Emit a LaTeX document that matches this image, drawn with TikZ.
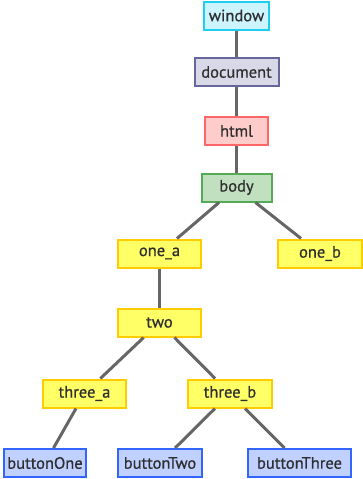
\documentclass[tikz,border=0pt]{standalone}
\usepackage{fontspec}
\setmainfont{PT Sans}
\newfontfamily\labelfont{PT Sans}[FakeBold=0.7]
\begin{document}
\begin{tikzpicture}[x=1pt,y=-1pt,
  box/.style={draw, line width=2pt, rectangle, inner sep=0pt,
    minimum height=28pt, font=\labelfont\fontsize{16.5}{18}\selectfont, text=black!82},
  winbox/.style={box, draw={rgb,255:red,34;green,204;blue,238}, fill={rgb,255:red,204;green,245;blue,255}},
  docbox/.style={box, draw={rgb,255:red,102;green,102;blue,153}, fill={rgb,255:red,216;green,216;blue,232}},
  htmlbox/.style={box, draw={rgb,255:red,255;green,102;blue,102}, fill={rgb,255:red,255;green,204;blue,204}},
  bodybox/.style={box, draw={rgb,255:red,85;green,170;blue,85}, fill={rgb,255:red,192;green,224;blue,192}},
  elbox/.style={box, draw={rgb,255:red,255;green,204;blue,0}, fill={rgb,255:red,255;green,255;blue,102}},
  btnbox/.style={box, draw={rgb,255:red,51;green,102;blue,255}, fill={rgb,255:red,192;green,208;blue,255}},
  link/.style={draw={rgb,255:red,102;green,102;blue,102}, line width=3pt}]
\useasboundingbox (0,0) rectangle (363,479);

% DOM tree nodes
\node[winbox,  minimum width=65pt] (window)   at (236.5,15.5) {window};
\node[docbox,  minimum width=84pt] (document) at (236.5,72)   {document};
\node[htmlbox, minimum width=63pt] (html)     at (236.5,131)  {html};
\node[bodybox, minimum width=70pt] (body)     at (236.5,187.5){body};
\node[elbox,   minimum width=83pt] (onea)     at (159.5,253.5){one\_a};
\node[elbox,   minimum width=84pt] (oneb)     at (320,253.5)  {one\_b};
\node[elbox,   minimum width=83pt] (two)      at (159.5,322.5){two};
\node[elbox,   minimum width=83pt] (threea)   at (84.5,393.5) {three\_a};
\node[elbox,   minimum width=84pt] (threeb)   at (230,393.5)  {three\_b};
\node[btnbox,  minimum width=82pt] (btnone)   at (45,463)     {buttonOne};
\node[btnbox,  minimum width=84pt] (btntwo)   at (160,463)    {buttonTwo};
\node[btnbox,  minimum width=103pt] (btnthree) at (299.5,463) {buttonThree};

% parent-child links
\draw[link] (window) -- (document);
\draw[link] (document) -- (html);
\draw[link] (html) -- (body);
\draw[link] (body) -- (onea);
\draw[link] (body) -- (oneb);
\draw[link] (onea) -- (two);
\draw[link] (two) -- (threea);
\draw[link] (two) -- (threeb);
\draw[link] (threea) -- (btnone);
\draw[link] (threeb) -- (btntwo);
\draw[link] (threeb) -- (btnthree);
\end{tikzpicture}
\end{document}
